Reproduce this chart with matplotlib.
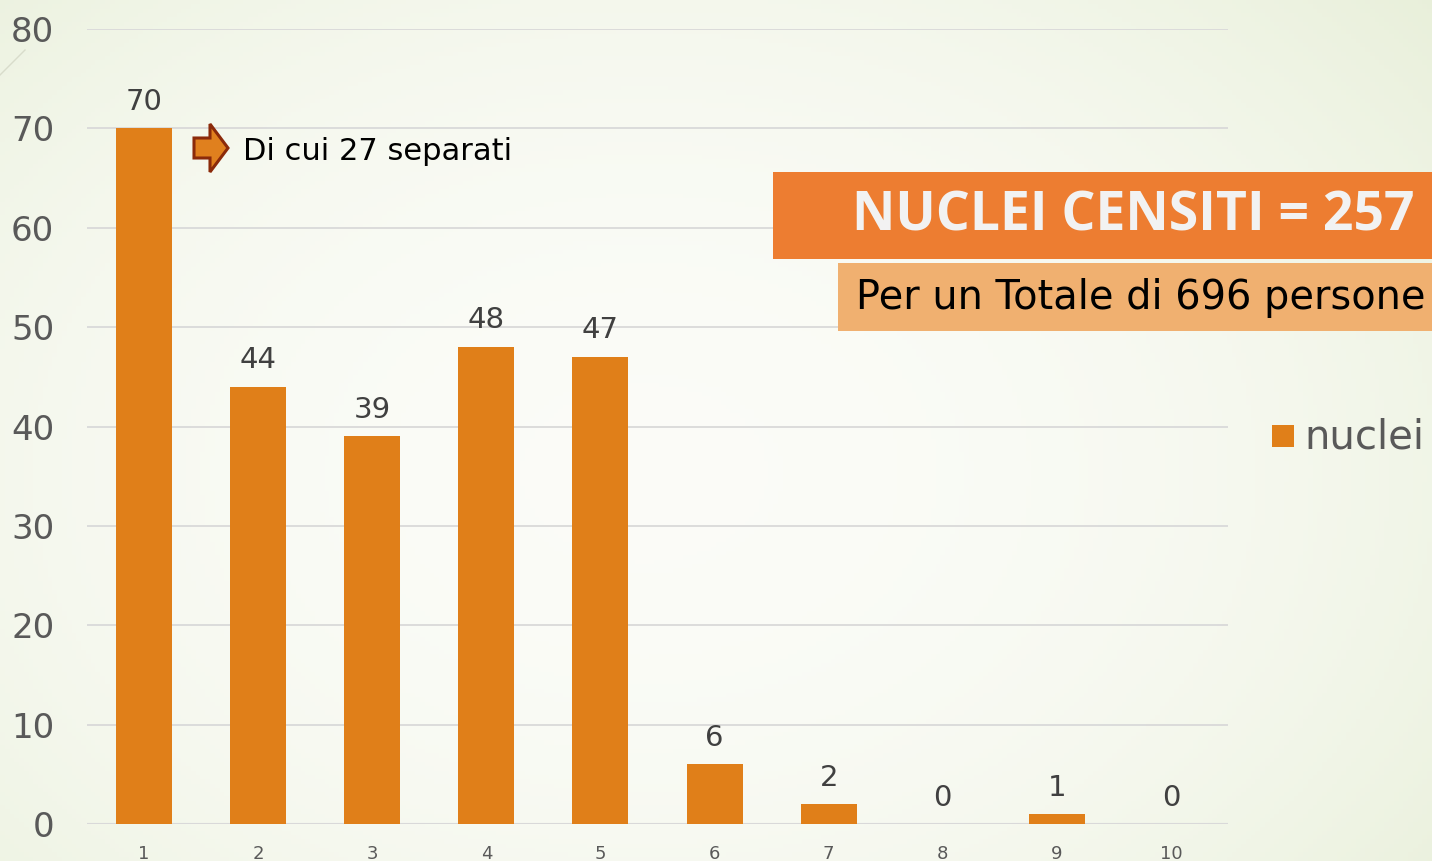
import numpy as np
import matplotlib.pyplot as plt
from matplotlib.patches import Rectangle, FancyArrow
from matplotlib.lines import Line2D

# dati
categorie = ["1", "2", "3", "4", "5", "6", "7", "8", "9", "10"]
nuclei = [70, 44, 39, 48, 47, 6, 2, 0, 1, 0]
y_ticks = [0, 10, 20, 30, 40, 50, 60, 70, 80]
titolo = "NUCLEI CENSITI = 257"
sottotitolo = "Per un Totale di 696 persone"
nota = "Di cui 27 separati"
serie = "nuclei"

arancio = "#E07F19"
grigio = "#595959"
font_g = ["DejaVu Sans"]

fig = plt.figure(figsize=(14.32, 8.61), dpi=100)

# sfondo sfumato
bg = fig.add_axes([0, 0, 1, 1], zorder=-10)
yy, xx = np.mgrid[0:1:200j, 0:1:300j]
d = np.clip(np.sqrt(((xx - 0.45) / 0.75) ** 2 + ((yy - 0.55) / 0.9) ** 2), 0, 1)
c0 = np.array([0.985, 0.988, 0.970])
c1 = np.array([0.905, 0.935, 0.845])
img = c0 + (c1 - c0) * (d[..., None] ** 2.2)
bg.imshow(img, extent=(0, 1, 0, 1), aspect="auto", origin="upper")
bg.axis("off")
fig.add_artist(Line2D([0, 25 / 1432], [1 - 75 / 861, 1 - 50 / 861], transform=fig.transFigure,
                      color="#d8dccb", lw=1))

ax = fig.add_axes([87 / 1432, 37 / 861, 1141 / 1432, 795 / 861])
ax.patch.set_alpha(0)
x = np.arange(len(categorie))
bars = ax.bar(x, nuclei, width=0.49, color=arancio, zorder=3)
ax.set_xlim(-0.5, len(categorie) - 0.5)
ax.set_ylim(0, 80)
ax.set_yticks(y_ticks)
ax.set_xticks(x)
ax.set_xticklabels(categorie)
ax.grid(axis="y", color="#d9d9d9", lw=1.3, zorder=0)
for s in ax.spines.values():
    s.set_visible(False)
ax.axhline(0, color="#d9d9d9", lw=1.5, zorder=2)
ax.tick_params(axis="y", length=0, pad=23.5, labelsize=24.5, labelcolor=grigio)
ax.tick_params(axis="x", length=0, pad=15, labelsize=13, labelcolor=grigio)
for lab in ax.get_yticklabels() + ax.get_xticklabels():
    lab.set_family(font_g)

lbls = ax.bar_label(bars, padding=9, fontsize=21, color="#404040")
for t in lbls:
    t.set_family(font_g)

# freccia e nota
fig.add_artist(FancyArrow(194 / 1432, 1 - 148 / 861, 16 / 1432, 0, width=20 / 861,
                          head_width=48 / 861, head_length=18 / 1432,
                          length_includes_head=False, transform=fig.transFigure,
                          fc="#E0801E", ec="#8B2A0A", lw=2.2))
fig.text(243 / 1432, 1 - 151 / 861, nota, fontsize=22, color="black", va="center",
         family=font_g)

# riquadri titolo
fig.add_artist(Rectangle((773 / 1432, 1 - 259 / 861), 659 / 1432, 87 / 861,
                         transform=fig.transFigure, fc="#ED7D31", ec="none"))
fig.text(1415 / 1432, 1 - 217 / 861, titolo, fontsize=38.5, fontweight="bold",
         color="#F2F2F2", ha="right", va="center", family=["Open Sans", "DejaVu Sans"])
fig.add_artist(Rectangle((838 / 1432, 1 - 331 / 861), 594 / 1432, 68 / 861,
                         transform=fig.transFigure, fc="#F0B070", ec="none"))
fig.text(856 / 1432, 1 - 298 / 861, sottotitolo, fontsize=28.7, color="black",
         ha="left", va="center", family=font_g)

# legenda
fig.add_artist(Rectangle((1272 / 1432, 1 - 447 / 861), 22 / 1432, 22 / 861,
                         transform=fig.transFigure, fc=arancio, ec="none"))
fig.text(1304 / 1432, 1 - 437 / 861, serie, fontsize=29, color=grigio, va="center",
         family=font_g)

fig.savefig("out.png", dpi=100)
